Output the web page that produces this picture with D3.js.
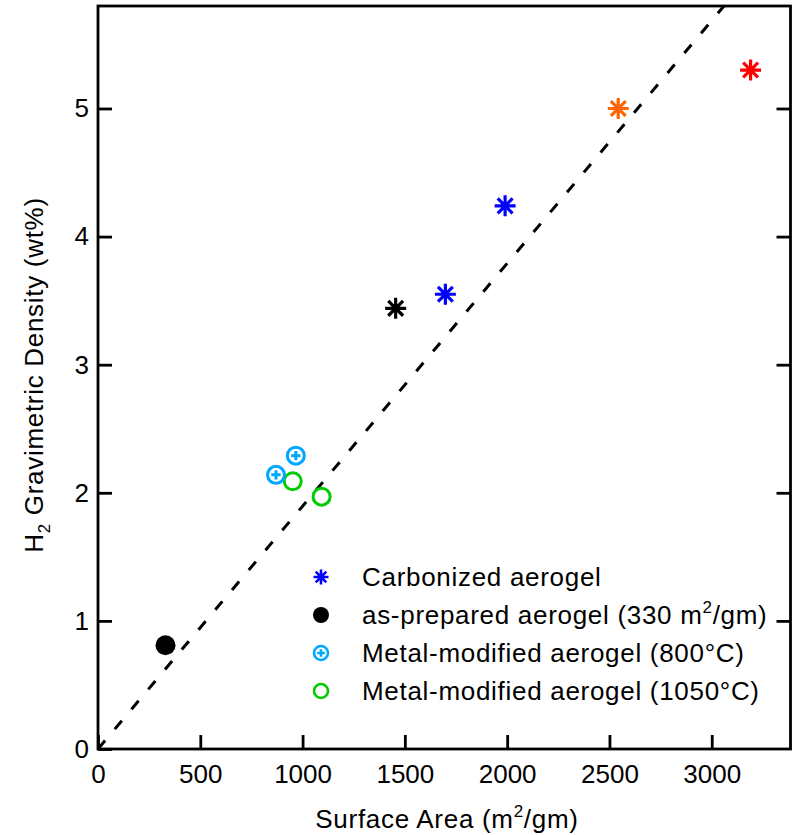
<!DOCTYPE html>
<html>
<head>
<meta charset="utf-8">
<script src="https://cdn.jsdelivr.net/npm/d3@7"></script>
<style>
  html, body { margin: 0; padding: 0; background: #fff; }
  svg { display: block; font-family: "Liberation Sans", Arial, Helvetica, sans-serif; }
</style>
</head>
<body>
<svg id="chart" width="792" height="835"></svg>
<script>
// ---- data ----
const xTicks = [0, 500, 1000, 1500, 2000, 2500, 3000];
const yTicks = [0, 1, 2, 3, 4, 5];

const carbonizedX = [1698, 1990];
const carbonizedY = [3.55, 4.24];
const blackStarX = [1455];
const blackStarY = [3.44];
const orangeStarX = [2543];
const orangeStarY = [5.0];
const redStarX = [3190];
const redStarY = [5.30];
const asPreparedX = [330];
const asPreparedY = [0.81];
const metal800X = [870, 967];
const metal800Y = [2.14, 2.29];
const metal1050X = [952, 1093];
const metal1050Y = [2.09, 1.97];
const fitLineX = [0, 3060];
const fitLineY = [0, 5.8];

const legendLabels = [
  "Carbonized aerogel",
  "as-prepared aerogel (330 m\u00B2/gm)",
  "Metal-modified aerogel (800\u00B0C)",
  "Metal-modified aerogel (1050\u00B0C)"
];

// ---- layout ----
const svg = d3.select("#chart");
const L = 98, R = 790.5, T = 6, B = 749;
const x = d3.scaleLinear().domain([0, 3385]).range([L, R]);
const y = d3.scaleLinear().domain([0, 5.8]).range([B, T]);

const BLUE = "#0000ff", ORANGE = "#ff6600", RED = "#ff0000",
      LBLUE = "#00a8ff", GREEN = "#00cc00";
const LS = 0.7; // letter spacing for word text

const defs = svg.append("defs");
defs.append("clipPath").attr("id", "clip").append("rect")
  .attr("x", L).attr("y", T).attr("width", R - L).attr("height", B - T);

// fit line
const line = d3.line().x(d => x(d[0])).y(d => y(d[1]));
svg.append("path")
  .attr("clip-path", "url(#clip)")
  .attr("d", line(fitLineX.map((v, i) => [v, fitLineY[i]])))
  .attr("fill", "none").attr("stroke", "#000")
  .attr("stroke-width", 3).attr("stroke-dasharray", "11,15");

// frame
svg.append("rect").attr("x", L).attr("y", T).attr("width", R - L).attr("height", B - T)
  .attr("fill", "none").attr("stroke", "#000").attr("stroke-width", 2.8);

// axes
const fs = 26;
const fmt = d3.format("d");
const xAxis = d3.axisBottom(x).tickValues(xTicks).tickFormat(fmt).tickSizeInner(-14).tickSizeOuter(0).tickPadding(16);
const gx = svg.append("g").attr("transform", `translate(0,${B})`).call(xAxis);
const yAxis = d3.axisLeft(y).tickValues(yTicks).tickFormat(fmt).tickSizeInner(-14).tickSizeOuter(0).tickPadding(9);
const gy = svg.append("g").attr("transform", `translate(${L},0)`).call(yAxis);
const yAxisR = d3.axisRight(y).tickValues(yTicks.slice(1)).tickSizeInner(-14).tickSizeOuter(0).tickFormat("");
const gyr = svg.append("g").attr("transform", `translate(${R},0)`).call(yAxisR);
[gx, gy, gyr].forEach(g => {
  g.attr("font-size", fs).attr("font-family", "Liberation Sans, Arial, sans-serif");
  g.select(".domain").remove();
  g.selectAll(".tick line").attr("stroke", "#000").attr("stroke-width", 2.8);
  g.selectAll(".tick text").attr("fill", "#000");
});
gx.selectAll(".tick text").attr("dy", "0.71em");

// axis titles
const xt = svg.append("text").attr("x", 447).attr("y", 828).attr("text-anchor", "middle")
  .attr("font-size", fs).attr("letter-spacing", LS);
xt.append("tspan").text("Surface Area (m");
xt.append("tspan").attr("font-size", 17).attr("dy", -11).text("2");
xt.append("tspan").attr("dy", 11).text("/gm)");

const yt = svg.append("text").attr("transform", "translate(43,375) rotate(-90)")
  .attr("text-anchor", "middle").attr("font-size", fs).attr("letter-spacing", LS);
yt.append("tspan").text("H");
yt.append("tspan").attr("font-size", 17).attr("dy", 7).text("2");
yt.append("tspan").attr("dy", -7).text(" Gravimetric Density (wt%)");

// marker helpers
function asterisk(g, cx, cy, r, color, sw) {
  const a = r * Math.SQRT1_2;
  const p = `M${cx},${cy - r}L${cx},${cy + r}M${cx - r},${cy}L${cx + r},${cy}` +
            `M${cx - a},${cy - a}L${cx + a},${cy + a}M${cx - a},${cy + a}L${cx + a},${cy - a}`;
  g.append("path").attr("d", p).attr("stroke", color).attr("stroke-width", sw).attr("fill", "none");
}
function plusCircle(g, cx, cy, r, color, sw) {
  g.append("circle").attr("cx", cx).attr("cy", cy).attr("r", r)
    .attr("fill", "none").attr("stroke", color).attr("stroke-width", sw);
  const k = r * 0.55;
  g.append("path").attr("d", `M${cx - k},${cy}L${cx + k},${cy}M${cx},${cy - k}L${cx},${cy + k}`)
    .attr("stroke", color).attr("stroke-width", sw);
}
function openCircle(g, cx, cy, r, color, sw) {
  g.append("circle").attr("cx", cx).attr("cy", cy).attr("r", r)
    .attr("fill", "none").attr("stroke", color).attr("stroke-width", sw);
}
function filledCircle(g, cx, cy, r, color) {
  g.append("circle").attr("cx", cx).attr("cy", cy).attr("r", r).attr("fill", color);
}

const pts = svg.append("g");
asPreparedX.forEach((v, i) => filledCircle(pts, x(v), y(asPreparedY[i]), 10, "#000"));
metal1050X.forEach((v, i) => openCircle(pts, x(v), y(metal1050Y[i]), 8.5, GREEN, 3));
metal800X.forEach((v, i) => plusCircle(pts, x(v), y(metal800Y[i]), 8.5, LBLUE, 3));
blackStarX.forEach((v, i) => asterisk(pts, x(v), y(blackStarY[i]), 10.5, "#000", 3.2));
carbonizedX.forEach((v, i) => asterisk(pts, x(v), y(carbonizedY[i]), 10.5, BLUE, 3.2));
orangeStarX.forEach((v, i) => asterisk(pts, x(v), y(orangeStarY[i]), 10.5, ORANGE, 3.2));
redStarX.forEach((v, i) => asterisk(pts, x(v), y(redStarY[i]), 10.5, RED, 3.2));

// legend
const lg = svg.append("g");
const rowY = [577, 615, 653, 691];
const symX = 321, textX = 362;
asterisk(lg, symX, rowY[0], 7.5, BLUE, 2.6);
filledCircle(lg, symX, rowY[1], 8, "#000");
plusCircle(lg, symX, rowY[2], 7, LBLUE, 2.6);
openCircle(lg, symX, rowY[3], 7, GREEN, 2.6);
legendLabels.forEach((t, i) => {
  const tx = lg.append("text").attr("x", textX).attr("y", rowY[i] + 9)
    .attr("font-size", fs).attr("letter-spacing", LS);
  if (i === 1) {
    tx.append("tspan").text("as-prepared aerogel (330 m");
    tx.append("tspan").attr("font-size", 17).attr("dy", -11).text("2");
    tx.append("tspan").attr("dy", 11).text("/gm)");
  } else {
    tx.text(t);
  }
});
</script>
</body>
</html>
